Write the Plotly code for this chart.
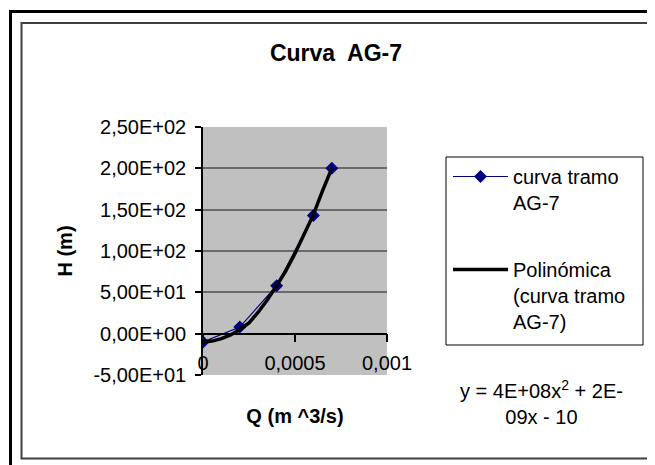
import plotly.graph_objects as go

# ---------------- data ----------------
q_points = [0.0, 0.0002, 0.0004, 0.0006, 0.0007]
h_points = [-10, 8, 58, 143, 200]

# polynomial trendline
trend_q = [0.0, 0.00005, 0.0001, 0.00015, 0.0002, 0.00025, 0.0003, 0.00035,
           0.0004, 0.00045, 0.0005, 0.00055, 0.0006, 0.00065, 0.0007]
trend_h = [-10, -9, -6, -1.5, 5, 13, 26, 41, 58, 76, 97, 121, 144, 173, 200]

y_tickvals = [-50, 0, 50, 100, 150, 200, 250]
y_ticktext = ["-5,00E+01", "0,00E+00", "5,00E+01", "1,00E+02",
              "1,50E+02", "2,00E+02", "2,50E+02"]
x_tickvals = [0, 0.0005, 0.001]
x_ticktext = ["0", "0,0005", "0,001"]

title_text = "Curva\u00a0 AG-7"
series_name = "curva tramo<br>AG-7"
trend_name = "Polinómica<br>(curva tramo<br>AG-7)"
equation_text = "y = 4E+08x<sup>2</sup> + 2E-<br>09x - 10"

# ---------------- layout geometry (reference pixel coords) ----------------
W, H = 655, 465
OFF = 8                                # page body margin
PL, PR, PT, PB = 203, 387, 127, 375    # plot area in reference pixels
pw, ph = PR - PL, PB - PT

def px(x):
    return (x - PL) / pw

def py(y):
    return (PB - y) / ph

FONT = "Liberation Sans, Arial, sans-serif"
yr = [-50, 250]
xr = [0, 0.001]

fig = go.Figure()
fig.add_trace(go.Scatter(
    x=q_points, y=h_points, name=series_name, mode="lines+markers",
    line=dict(color="#000080", width=1.2),
    marker=dict(symbol="diamond", size=10, color="#000080"),
    legendgroup="a",
))
fig.add_trace(go.Scatter(
    x=trend_q, y=trend_h, name=trend_name, mode="lines",
    line=dict(color="black", width=3.5),
    legendgroup="b",
))

fig.update_layout(
    width=W, height=H,
    margin=dict(l=PL - OFF, r=W - (PR - OFF), t=PT - OFF, b=H - (PB - OFF), pad=0),
    paper_bgcolor="white", plot_bgcolor="#C0C0C0",
    font=dict(family=FONT, size=20, color="black"),
    title=dict(text="<b>" + title_text + "</b>", font=dict(size=23),
               xref="container", yref="container",
               x=(336 - OFF) / W, y=1 - (53 - OFF) / H,
               xanchor="center", yanchor="middle"),
    showlegend=True,
    legend=dict(x=px(448), y=py(157), xanchor="left", yanchor="top",
                bgcolor="rgba(0,0,0,0)", borderwidth=0, valign="top",
                traceorder="grouped", tracegroupgap=38, itemwidth=55,
                font=dict(size=20)),
    xaxis=dict(range=xr, anchor="free", position=(0 - yr[0]) / (yr[1] - yr[0]),
               tickvals=x_tickvals, ticktext=x_ticktext,
               ticks="outside", ticklen=8, tickwidth=1.5, tickcolor="black",
               ticklabelstandoff=4,
               showline=True, linecolor="black", linewidth=1.5,
               showgrid=False, zeroline=False,
               title=dict(text="<b>Q (m ^3/s)</b>", font=dict(size=20), standoff=35)),
    yaxis=dict(range=yr, tickvals=y_tickvals, ticktext=y_ticktext,
               ticks="outside", ticklen=6, tickwidth=1.5, tickcolor="black",
               ticklabelstandoff=5,
               showline=True, linecolor="black", linewidth=1.5,
               showgrid=True, gridcolor="#6a6a6a", gridwidth=1.5,
               zeroline=False,
               title=dict(text="<b>H (m)</b>", font=dict(size=20), standoff=15)),
)

# legend frame
fig.add_shape(type="rect", xref="paper", yref="paper",
              x0=px(446), x1=px(643), y0=py(345), y1=py(157),
              line=dict(color="black", width=1), fillcolor="rgba(0,0,0,0)")
# chart area borders
fig.add_shape(type="rect", xref="paper", yref="paper",
              x0=px(21.5), x1=px(651.5), y0=py(458.5), y1=py(23),
              line=dict(color="#404040", width=2), fillcolor="rgba(0,0,0,0)")
fig.add_shape(type="rect", xref="paper", yref="paper",
              x0=px(10.5), x1=px(720), y0=py(540), y1=py(11.5),
              line=dict(color="black", width=3), fillcolor="rgba(0,0,0,0)")

# trendline equation
fig.add_annotation(text=equation_text, xref="paper", yref="paper",
                   x=px(541), y=py(402), xanchor="center", yanchor="middle",
                   showarrow=False, align="center", font=dict(size=20))

fig.write_html("out.html")
